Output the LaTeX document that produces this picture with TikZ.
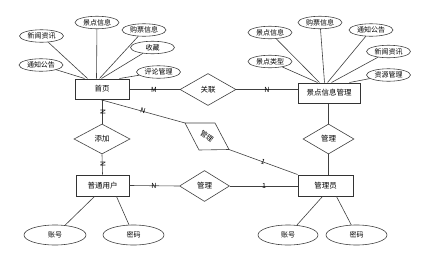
\documentclass[tikz,border=0pt]{standalone}
\usepackage{fontspec}
\setmainfont{Noto Sans CJK SC}
\usetikzlibrary{shapes.geometric,calc}
\begin{document}
\begin{tikzpicture}[x=1pt,y=-1pt,
  ent/.style={draw=black!80, line width=1pt, inner sep=0pt, font=\fontsize{7.5}{8}\selectfont},
  attr/.style={ellipse, draw=black!75, line width=0.6pt, minimum width=44pt, minimum height=12.5pt, inner sep=0pt, font=\fontsize{7}{8}\selectfont},
  battr/.style={ellipse, draw=black!75, line width=0.6pt, minimum width=61pt, minimum height=20pt, inner sep=0pt, font=\fontsize{7}{8}\selectfont},
  rel/.style={diamond, draw=black!75, line width=0.6pt, inner sep=0pt, font=\fontsize{7.5}{8}\selectfont},
  conn/.style={draw=black!75, line width=0.6pt},
  card/.style={inner sep=0pt, font=\fontsize{7}{8}\selectfont}]
\useasboundingbox (0,0) rectangle (433,257);

% entities
\node[ent, minimum width=54pt, minimum height=20pt] (sy) at (102,89) {首页};
\node[ent, minimum width=62pt, minimum height=20pt] (jd) at (329,93) {景点信息管理};
\node[ent, minimum width=53pt, minimum height=21pt] (pt) at (102.5,185.5) {普通用户};
\node[ent, minimum width=55pt, minimum height=21pt] (gly) at (325.5,185.5) {管理员};

% relations
\node[rel, minimum width=56pt, minimum height=32pt] (gl) at (208,89.5) {关联};
\node[rel, minimum width=56pt, minimum height=30pt] (tj) at (102,139) {添加};
\node[rel, minimum width=50pt, minimum height=31pt] (gm) at (204.5,186) {管理};
\node[rel, minimum width=51pt, minimum height=30pt] (gr) at (328.5,139) {管理};

% parallelogram relation
\coordinate (p1) at (185,123);
\coordinate (p2) at (215,123);
\coordinate (p3) at (229,149.5);
\coordinate (p4) at (199,150);
\draw[conn] (p1) -- (p2) -- (p3) -- (p4) -- cycle;
\node[rotate=-35, inner sep=0pt, font=\fontsize{7}{8}\selectfont] (gp) at (207,136.5) {管理};

% top-left attributes
\node[attr] (a1) at (97,22.5) {景点信息};
\node[attr] (a2) at (41.5,36) {新闻资讯};
\node[attr] (a3) at (144,30) {购票信息};
\node[attr] (a4) at (152.5,47.5) {收藏};
\node[attr] (a5) at (41,65) {通知公告};
\node[attr] (a6) at (158.5,72) {评论管理};
\draw[conn] (a1) -- ([xshift=22pt]sy.north west);
\draw[conn] (a2) -- ([xshift=13pt]sy.north west);
\draw[conn] (a3) -- ([xshift=25pt]sy.north west);
\draw[conn] (a4) -- ([xshift=27pt]sy.north west);
\draw[conn] (a5) -- ([xshift=10pt]sy.north west);
\draw[conn] (a6) -- ([xshift=45pt]sy.north west);

% top-right attributes
\node[attr] (b1) at (270,32.5) {景点信息};
\node[attr] (b2) at (320,22.5) {购票信息};
\node[attr] (b3) at (371,30) {通知公告};
\node[attr] (b4) at (388.5,51.5) {新闻资讯};
\node[attr] (b5) at (270,61.5) {景点类型};
\node[attr] (b6) at (388.5,75) {资源管理};
\draw[conn] (b1) -- ([xshift=22pt]jd.north west);
\draw[conn] (b2) -- ([xshift=27pt]jd.north west);
\draw[conn] (b3) -- ([xshift=30pt]jd.north west);
\draw[conn] (b4) -- ([xshift=34pt]jd.north west);
\draw[conn] (b5) -- ([xshift=20pt]jd.north west);
\draw[conn] (b6) -- ([xshift=52pt]jd.north west);

% bottom attributes
\node[battr, minimum width=62pt] (c1) at (55,235) {账号};
\node[battr] (c2) at (133.5,235) {密码};
\node[battr, minimum width=60pt] (d1) at (288,235) {账号};
\node[battr] (d2) at (356.5,235) {密码};
\draw[conn] (c1) -- ([xshift=19pt]pt.south west);
\draw[conn] (c2) -- ([xshift=41pt]pt.south west);
\draw[conn] (d1) -- ([xshift=25pt]gly.south west);
\draw[conn] (d2) -- ([xshift=39pt]gly.south west);

% relationship connectors
\draw[conn] (sy.east |- gl.west) -- (gl.west);
\draw[conn] (gl.east) -- (gl.east -| jd.west);
\draw[conn] (sy.south) -- (tj.north);
\draw[conn] (tj.south) -- (pt.north);
\draw[conn] (pt.east) -- (gm.west);
\draw[conn] (gm.east) -- (gm.east -| gly.west);
\draw[conn] (jd.south -| gr.north) -- (gr.north);
\draw[conn] (gr.south) -- (gr.south |- gly.north);
\draw[conn] ([xshift=-2pt]sy.south) -- (p1);
\draw[conn] (p3) -- (gly.north west);

% cardinalities
\node[card] (m1) at (154,89.5) {M};
\node[card] (n1) at (267,89.5) {N};
\node[card, rotate=-90] (n2) at (103,112) {N};
\node[card, rotate=-90] (n3) at (103,164) {N};
\node[card] (n4) at (154,186) {N};
\node[card] (o1) at (264,186) {1};
\node[card, rotate=-15] (n5) at (143,111) {N};
\node[card, rotate=-20] (o2) at (263,162) {1};
\end{tikzpicture}
\end{document}
